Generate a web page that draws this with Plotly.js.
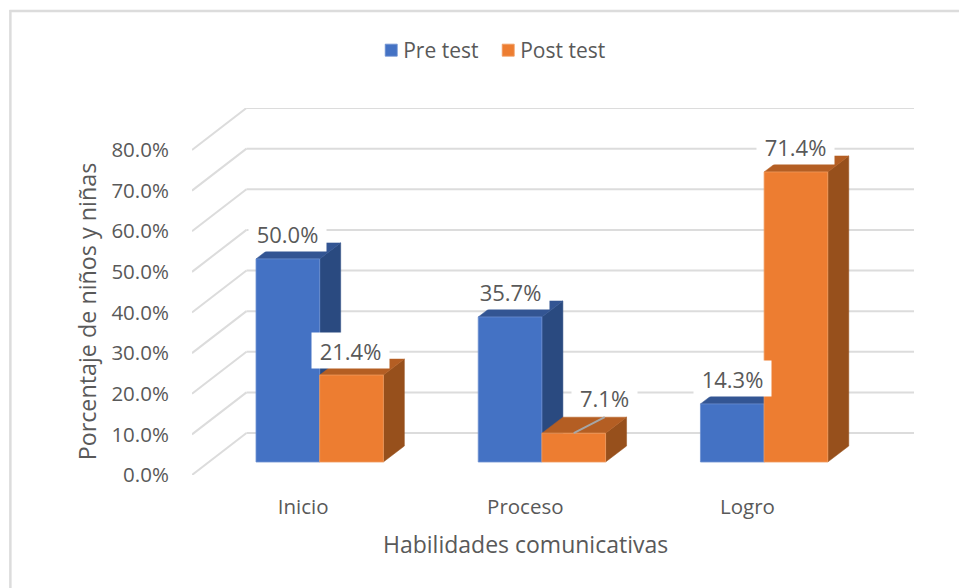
<!DOCTYPE html>
<html><head><meta charset="utf-8">
<script src="https://cdn.plot.ly/plotly-3.0.1.min.js"></script>
<style>html,body{margin:0;padding:0;background:#fff}#c{width:959px;height:588px}</style>
</head><body><div id="c"></div>
<script>
const categories = ['Inicio', 'Proceso', 'Logro'];
const preTest = [50.0, 35.7, 14.3];
const postTest = [21.4, 7.1, 71.4];
const yTicks = [0, 10, 20, 30, 40, 50, 60, 70, 80];
const yTickLabels = ['0.0%', '10.0%', '20.0%', '30.0%', '40.0%', '50.0%', '60.0%', '70.0%', '80.0%'];

const W = 959, H = 588;
const L = 191.7, R = 914, T = 108, B = 475;
const pxX = 222.3, pxY = 4.0625;
const X = p => p / pxX, Y = p => p / pxY;
const font = '"Open Sans", "Noto Sans", sans-serif';
const grey = '#595959';

const wallDx = X(54.5), wallDy = Y(42);
const barW = X(63.7), barShift = X(16.6), baseV = Y(13), depthX = X(21), depthY = Y(16);

const palette = {
  pre: {front: '#4472C4', top: '#335593', side: '#2A4A80', edge: '#6C8FD0'},
  post: {front: '#ED7D31', top: '#B45E23', side: '#97501C', edge: '#F09A5E'}
};

function poly(xs, ys, color, z) {
  return {type: 'scatter', mode: 'lines', x: xs.concat(xs[0]), y: ys.concat(ys[0]), fill: 'toself',
    fillcolor: color, line: {color: color, width: 0.5}, showlegend: false, hoverinfo: 'skip', zorder: z};
}
const traces = [];
function addSeries(name, vals, pal, offset, z) {
  vals.forEach((v, i) => {
    const x0 = i + barShift + offset, x1 = x0 + barW, t = baseV + v;
    traces.push(poly([x1, x1, x1 + depthX, x1 + depthX], [baseV, t, t + depthY, baseV + depthY], pal.side, z));
    traces.push(poly([x0, x1, x1 + depthX, x0 + depthX], [t, t, t + depthY, t + depthY], pal.top, z));
  });
  traces.push({type: 'bar', name: name, x: categories.map((c, i) => i), y: vals, base: baseV,
    width: barW, offset: barShift + offset, zorder: z + 1,
    marker: {color: pal.front, line: {color: pal.edge, width: 0.8}}, hoverinfo: 'y'});
}
addSeries('Pre test', preTest, palette.pre, -barW, 1);
addSeries('Post test', postTest, palette.post, 0, 3);

// leader line of the 7.1% label
const leadI = 1;
traces.push({type: 'scatter', mode: 'lines',
  x: [leadI + barShift + barW / 2, leadI + barShift + barW / 2 + X(31)],
  y: [baseV + postTest[leadI], baseV + postTest[leadI] + depthY],
  line: {color: '#A6A6A6', width: 2}, showlegend: false, hoverinfo: 'skip', zorder: 5});

const shapes = [];
yTicks.forEach(t => {
  const y = t + wallDy;
  shapes.push({type: 'line', layer: 'below', xref: 'x', yref: 'y', x0: -0.5, y0: t, x1: -0.5 + wallDx, y1: y,
    line: {color: '#DCDCDC', width: 2}});
  shapes.push({type: 'line', layer: 'below', xref: 'x', yref: 'y', x0: -0.5 + wallDx, y0: y, x1: -0.5 + X(R - L), y1: y,
    line: {color: '#DCDCDC', width: 2}});
});
// chart frame: only the top and left edges fall inside the picture
const px = p => (p - L) / (R - L), py = p => (B - p) / (B - T);
shapes.push({type: 'line', layer: 'below', xref: 'paper', yref: 'paper', x0: px(9), x1: px(959), y0: py(11), y1: py(11),
  line: {color: '#DCDCDC', width: 2.5}});
shapes.push({type: 'line', layer: 'below', xref: 'paper', yref: 'paper', x0: px(10), x1: px(10), y0: py(10), y1: py(588),
  line: {color: '#DCDCDC', width: 2.5}});

const annotations = [];
function label(i, v, offset, dx, dy, w) {
  annotations.push({xref: 'x', yref: 'y', x: i + barShift + offset + barW / 2, y: baseV + v,
    xshift: dx, yshift: dy, text: v.toFixed(1) + '%', showarrow: false, xanchor: 'center', yanchor: 'middle',
    width: w, height: 35, bgcolor: '#FFFFFF', borderpad: 0, align: 'center',
    font: {family: font, size: 22, color: grey}});
}
preTest.forEach((v, i) => label(i, v, -barW, 0, 25.5, 77));
postTest.forEach((v, i) => i === 1 ? label(i, v, 0, 31, 35.5, 65) : label(i, v, 0, i === 0 ? -1 : 0, 25, 77));

annotations.push({xref: 'paper', yref: 'paper', x: px(525), y: py(544), text: 'Habilidades comunicativas', showarrow: false,
  xanchor: 'center', yanchor: 'middle', font: {family: font, size: 23, color: grey}});
annotations.push({xref: 'paper', yref: 'paper', x: px(87), y: py(311), text: 'Porcentaje de niños y niñas', showarrow: false,
  textangle: -90, xanchor: 'center', yanchor: 'middle', font: {family: font, size: 23.3, color: grey}});

const layout = {
  width: W, height: H, paper_bgcolor: 'rgba(0,0,0,0)', plot_bgcolor: 'rgba(0,0,0,0)',
  margin: {l: L, r: W - R, t: T, b: H - B, pad: 0},
  barmode: 'overlay', showlegend: true,
  legend: {orientation: 'h', x: px(373), y: py(30), xanchor: 'left', yanchor: 'top', indentation: -10,
    itemwidth: 30, entrywidth: 82, entrywidthmode: 'pixels', traceorder: 'normal',
    font: {family: font, size: 21, color: grey}, bgcolor: 'rgba(0,0,0,0)'},
  xaxis: {range: [-0.5, -0.5 + X(R - L)], tickmode: 'array', tickvals: categories.map((c, i) => i), ticktext: categories,
    showgrid: false, zeroline: false, showline: false, ticks: 'outside', ticklen: 13, tickcolor: 'rgba(0,0,0,0)',
    tickfont: {family: font, size: 20.5, color: grey}, fixedrange: true},
  yaxis: {range: [0, Y(B - T)], tickmode: 'array', tickvals: yTicks, ticktext: yTickLabels,
    showgrid: false, zeroline: false, showline: false, ticks: 'outside', ticklen: 18, tickcolor: 'rgba(0,0,0,0)',
    tickfont: {family: font, size: 20.5, color: grey}, fixedrange: true},
  shapes: shapes, annotations: annotations
};
Plotly.newPlot('c', traces, layout, {displayModeBar: false, responsive: false}).then(() => {
  document.querySelectorAll('#c .legend .legendsymbols').forEach(g => g.setAttribute('transform', 'translate(8,0)'));
});
</script></body></html>
